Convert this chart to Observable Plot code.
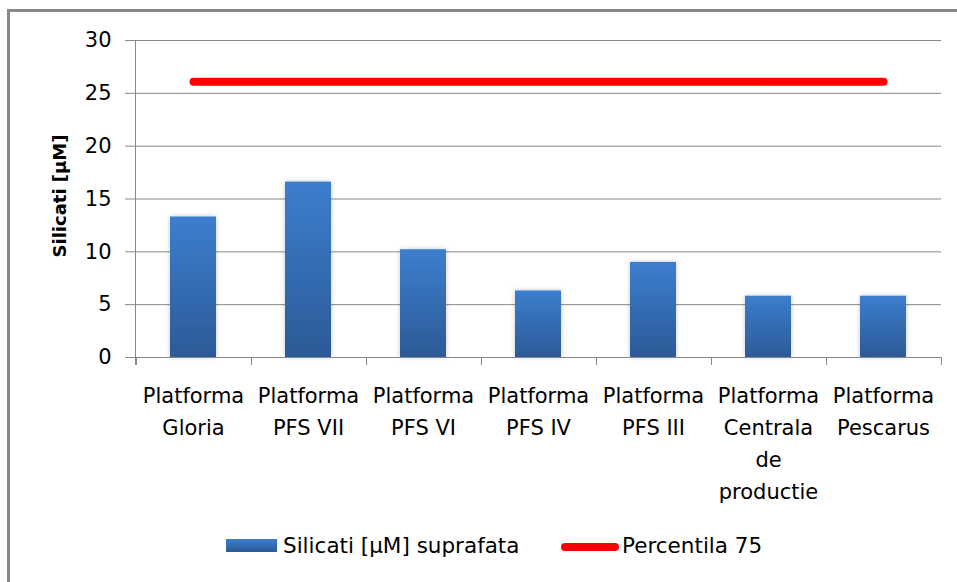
<!DOCTYPE html>
<html>
<head>
<meta charset="utf-8">
<script src="https://cdn.jsdelivr.net/npm/d3@7"></script>
<script src="https://cdn.jsdelivr.net/npm/@observablehq/plot@0.6"></script>
<style>
  html, body { margin: 0; padding: 0; background: #fff; overflow: hidden; }
  #wrap { position: relative; width: 957px; height: 582px; font-family: "DejaVu Sans", sans-serif; }
  #border { position: absolute; left: 7px; top: 9px; width: 1100px; height: 1100px; border: 3px solid #888; box-sizing: border-box; }
  #chart { position: absolute; left: 0; top: 0; }
  .lg { position: absolute; }
  .lgtext { position: absolute; font-size: 21.5px; line-height: 21px; color: #000; white-space: nowrap; }
</style>
</head>
<body>
<div id="wrap">
  <div id="border"></div>
  <div id="chart"></div>
  <div class="lg" style="left:226px; top:539px; width:51px; height:13px; background:linear-gradient(#3c7ece,#2c5a97);"></div>
  <div class="lgtext" id="lg1" style="left:283px; top:535px;"></div>
  <div class="lg" style="left:561px; top:543px; width:58px; height:8px; border-radius:4px; background:#ff0000;"></div>
  <div class="lgtext" id="lg2" style="left:622px; top:535px;"></div>
</div>
<script>
const categories = [
  "Platforma\nGloria",
  "Platforma\nPFS VII",
  "Platforma\nPFS VI",
  "Platforma\nPFS IV",
  "Platforma\nPFS III",
  "Platforma\nCentrala\nde\nproductie",
  "Platforma\nPescarus"
];
const silicati = [13.3, 16.6, 10.2, 6.3, 9.0, 5.8, 5.8];
const percentila75 = [26.1, 26.1, 26.1, 26.1, 26.1, 26.1, 26.1];
const yTicks = [0, 5, 10, 15, 20, 25, 30];
const seriesNames = ["Silicati [µM] suprafata", "Percentila 75"];
const yTitle = "Silicati [µM]";

const data = categories.map((c, i) => ({cat: c, sil: silicati[i], p75: percentila75[i]}));

document.getElementById("lg1").textContent = seriesNames[0];
document.getElementById("lg2").textContent = seriesNames[1];

const defsMark = () => {
  const defs = d3.create("svg:defs");
  const lg = defs.append("linearGradient").attr("id", "barGrad").attr("x1", 0).attr("y1", 0).attr("x2", 0).attr("y2", 1);
  lg.append("stop").attr("offset", "0%").attr("stop-color", "#3c7ece");
  lg.append("stop").attr("offset", "100%").attr("stop-color", "#2c5a97");
  const f = defs.append("filter").attr("id", "barShadow").attr("x", "-30%").attr("y", "-10%").attr("width", "160%").attr("height", "120%");
  f.append("feDropShadow").attr("dx", 0).attr("dy", 0).attr("stdDeviation", 2.5).attr("flood-color", "#000").attr("flood-opacity", 0.22);
  return defs.node();
};

const axesMark = (index, scales, values, dimensions) => {
  const g = d3.create("svg:g").attr("stroke", "#888").attr("stroke-width", 1).attr("fill", "none");
  const xs = scales.x, ys = scales.y;
  const left = dimensions.marginLeft;
  const right = dimensions.width - dimensions.marginRight;
  const y0 = ys(0), yT = ys(30);
  g.append("line").attr("x1", left + 0.5).attr("x2", left + 0.5).attr("y1", yT).attr("y2", y0 + 8);
  g.append("line").attr("x1", left).attr("x2", right).attr("y1", y0 + 0.5).attr("y2", y0 + 0.5);
  const step = xs(categories[1]) - xs(categories[0]);
  const bw = xs.bandwidth ? xs.bandwidth() : step * 0.4;
  const bounds = categories.map(c => xs(c) + bw / 2 - step / 2);
  bounds.push(bounds[bounds.length - 1] + step);
  bounds.forEach(b => {
    g.append("line").attr("x1", Math.round(b) + 0.5).attr("x2", Math.round(b) + 0.5).attr("y1", y0).attr("y2", y0 + 8);
  });
  return g.node();
};

const plot = Plot.plot({
  width: 957,
  height: 520,
  marginLeft: 135,
  marginRight: 16,
  marginTop: 40,
  marginBottom: 163,
  style: {fontFamily: "DejaVu Sans, sans-serif", fontSize: "21px", color: "#000", background: "transparent", overflow: "visible"},
  x: {domain: categories, paddingInner: 0.6, paddingOuter: 0.3, axis: null},
  y: {domain: [0, 30], axis: null},
  marks: [
    defsMark,
    Plot.gridY(yTicks, {stroke: "#888", strokeOpacity: 1, strokeWidth: 1}),
    Plot.barY(data, {x: "cat", y: "sil", fill: "url(#barGrad)"}),
    Plot.lineY(data, {x: "cat", y: "p75", stroke: "#ff0000", strokeWidth: 8, strokeLinecap: "round"}),
    axesMark,
    Plot.axisY(yTicks, {tickSize: 10, tickPadding: 14, stroke: "#888", strokeOpacity: 1, fontSize: 21, fill: "#000", label: null}),
    Plot.axisX({tickSize: 0, tickPadding: 23, fontSize: 21, lineHeight: 1.52, fill: "#000", label: null}),
    Plot.text([yTitle], {frameAnchor: "left", rotate: -90, dx: -75, dy: -3, textAnchor: "middle", fontWeight: "bold", fontSize: 18, fill: "#000"})
  ]
});
document.getElementById("chart").appendChild(plot);
d3.select(plot).selectAll('g[aria-label="bar"] rect').attr("filter", "url(#barShadow)");
</script>
</body>
</html>
